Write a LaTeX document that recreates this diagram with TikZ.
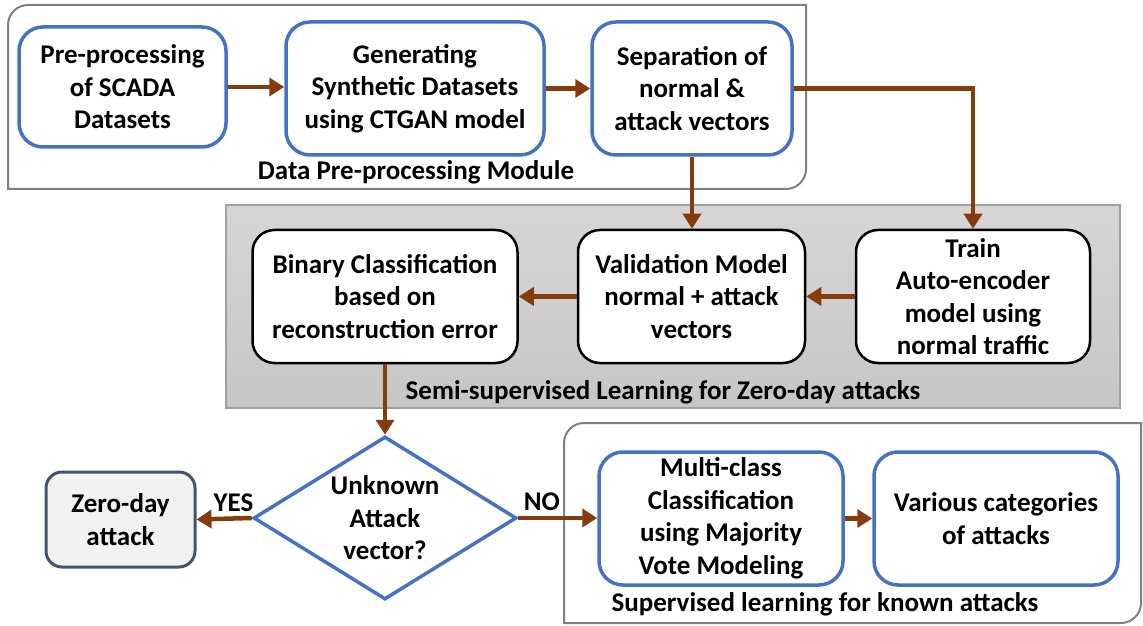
\documentclass[tikz,border=0pt]{standalone}
\usepackage{fontspec}
\setmainfont{Carlito}
\usetikzlibrary{shapes.geometric,arrows.meta}
\definecolor{arrbrown}{RGB}{132,60,12}
\definecolor{boxblue}{RGB}{68,114,196}
\definecolor{modgray}{RGB}{128,128,128}
\definecolor{slate}{RGB}{68,84,106}
\begin{document}
\begin{tikzpicture}[x=1pt,y=1pt,
  font=\bfseries\fontsize{27}{32.5}\selectfont,
  bluebox/.style={draw=boxblue,line width=3.5pt,rounded corners=24pt,fill=white,align=center,inner sep=0pt},
  blackbox/.style={draw=black,line width=2.5pt,rounded corners=22pt,fill=white,align=center,inner sep=0pt},
  arr/.style={draw=arrbrown,line width=4.5pt,-{Triangle[length=15pt,width=18pt]}},
  modline/.style={draw=modgray,line width=2pt},
  lbl/.style={inner sep=0pt,align=center}]
\useasboundingbox (0,0) rectangle (1143,625);
% module frames
\draw[modline,fill=white] (8,436) -- (8,600) arc(180:90:20) -- (806,620) -- (806,456) arc(0:-90:20) -- cycle;
\draw[draw={rgb,255:red,160;green,160;blue,160},line width=2pt,top color={rgb,255:red,214;green,214;blue,214},bottom color={rgb,255:red,198;green,198;blue,198}] (226,217) rectangle (1120,420);
\draw[modline,fill=white] (564,2) -- (564,182) arc(180:90:20) -- (1141,202) -- (1141,22) arc(0:-90:20) -- cycle;
\node[lbl] (m1) at (416,453) {Data Pre-processing Module};
\node[lbl] (m2) at (663,233) {Semi-supervised Learning for Zero-day attacks};
\node[lbl] (m3) at (825,21) {Supervised learning for known attacks};
% nodes
\node[bluebox,minimum width=207pt,minimum height=120pt] (A) at (122.5,538) {Pre-processing\\of SCADA\\Datasets};
\node[bluebox,minimum width=258pt,minimum height=133pt] (B) at (415,536.5) {Generating\\Synthetic Datasets\\using CTGAN model};
\node[bluebox,minimum width=200pt,minimum height=133pt] (C) at (692,536.5) {Separation of\\normal \&\\attack vectors};
\node[blackbox,minimum width=265pt,minimum height=133pt] (D) at (385,328.5) {Binary Classification\\based on\\reconstruction error};
\node[blackbox,minimum width=227pt,minimum height=133pt] (E) at (691.5,328.5) {Validation Model\\normal + attack\\vectors};
\node[blackbox,minimum width=234pt,minimum height=133pt] (F) at (973,328.5) {Train\\Auto-encoder\\model using\\normal traffic};
\node[diamond,draw=boxblue,line width=3.5pt,fill=white,minimum width=263pt,minimum height=163pt,inner sep=0pt] (dia) at (385,107) {};
\node[lbl] (diat) at (dia.center) {Unknown\\Attack\\vector?};
\node[draw=slate,line width=3pt,rounded corners=16pt,fill={rgb,255:red,242;green,242;blue,242},minimum width=149pt,minimum height=95pt,align=center,inner sep=0pt] (Z) at (120.5,105.5) {Zero-day\\attack};
\node[bluebox,minimum width=244pt,minimum height=133pt] (G) at (721,106.5) {Multi-class\\Classification\\using Majority\\Vote Modeling};
\node[bluebox,minimum width=244pt,minimum height=133pt] (H) at (996,106.5) {Various categories\\of attacks};
% connectors
\draw[arr] (A.east) -- (A.east -| B.west);
\draw[arr] (B.east) -- (C.west);
\draw[arr] (C.east) -| (F.north);
\draw[arr] (C.south) -- (C.south |- E.north);
\draw[arr] (F.west) -- (E.east);
\draw[arr] (E.west) -- (D.east);
\draw[arr] (D.south) -- (dia.north);
\draw[arr] (dia.west) -- (Z.east) node[lbl,pos=0.33,above=5pt] (yes) {YES};
\draw[arr] (dia.east) -- (dia.east -| G.west) node[lbl,pos=0.3,above=5pt] (no) {NO};
\draw[arr] (G.east) -- (H.west);
\end{tikzpicture}
\end{document}
